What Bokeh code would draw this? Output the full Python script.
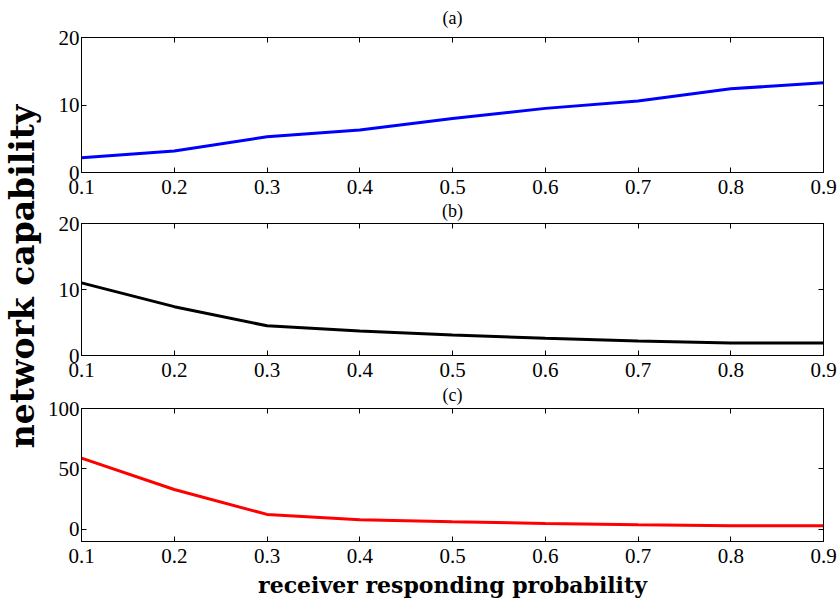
import math
from bokeh.plotting import figure
from bokeh.layouts import row, column
from bokeh.models import LinearAxis, FixedTicker, Range1d, Label, CustomJSTickFormatter
from bokeh.embed import file_html
from bokeh.resources import INLINE

# ---- data ----
x_prob = [0.1, 0.2, 0.3, 0.4, 0.5, 0.6, 0.7, 0.8, 0.9]
cap_a = [2.2, 3.2, 5.3, 6.3, 8.0, 9.5, 10.6, 12.4, 13.3]
cap_b = [11.0, 7.4, 4.5, 3.7, 3.1, 2.6, 2.2, 1.9, 1.9]
cap_c = [59.0, 33.0, 12.4, 8.0, 6.3, 4.9, 3.8, 3.0, 3.0]
x_ticks = [0.1, 0.2, 0.3, 0.4, 0.5, 0.6, 0.7, 0.8, 0.9]
y_ticks_ab = [0, 10, 20]
y_ticks_c = [0, 50, 100]
panel_titles = ["(a)", "(b)", "(c)"]
x_label = "receiver responding probability"
y_label = "network capability"

TICK_FONT = "'Liberation Serif', serif"
LABEL_FONT = "'DejaVu Serif', serif"
LEFT_W = 42


def style_axis(ax, ticks, show_labels=True):
    ax.ticker = FixedTicker(ticks=ticks)
    ax.axis_line_color = "black"
    ax.axis_line_width = 1
    ax.major_tick_in = 5
    ax.major_tick_out = 0
    ax.major_tick_line_color = "black"
    ax.minor_tick_line_color = None
    ax.major_label_text_font = TICK_FONT
    ax.major_label_text_color = "black"
    ax.major_label_text_font_size = "21px"
    if show_labels:
        ax.major_label_standoff = 2
    else:
        ax.formatter = CustomJSTickFormatter(code="return '';")
        ax.major_label_standoff = 0


def make_panel(title, ys, color, yticks, yrange, top, frame_h, bottom, title_standoff, xlabel=None):
    p = figure(width=838 - LEFT_W, height=top + frame_h + bottom,
               x_range=Range1d(0.1, 0.9), y_range=Range1d(*yrange),
               output_backend="svg", toolbar_location=None,
               min_border_left=81 - LEFT_W, min_border_right=15,
               min_border_top=top, min_border_bottom=bottom,
               title=title)
    p.title.align = "center"
    p.title.vertical_align = "top"
    p.title.text_font = TICK_FONT
    p.title.text_font_style = "normal"
    p.title.text_font_size = "18px"
    p.title.text_color = "black"
    p.title.standoff = title_standoff
    p.xgrid.visible = False
    p.ygrid.visible = False
    p.outline_line_color = "black"
    p.background_fill_color = "white"
    p.border_fill_color = "white"
    bottom_ax = p.xaxis[0]
    left_ax = p.yaxis[0]
    style_axis(bottom_ax, x_ticks)
    style_axis(left_ax, yticks)
    bottom_ax.major_label_standoff = 7
    if xlabel:
        bottom_ax.axis_label = xlabel
        bottom_ax.axis_label_text_font = LABEL_FONT
        bottom_ax.axis_label_text_font_style = "bold"
        bottom_ax.axis_label_text_font_size = "22px"
        bottom_ax.axis_label_text_color = "black"
        bottom_ax.axis_label_standoff = 6
    top_ax = LinearAxis()
    right_ax = LinearAxis()
    style_axis(top_ax, x_ticks, show_labels=False)
    style_axis(right_ax, yticks, show_labels=False)
    p.add_layout(top_ax, "above")
    p.add_layout(right_ax, "right")
    p.line(x_prob, ys, line_color=color, line_width=3)
    return p


p1 = make_panel(panel_titles[0], cap_a, "#0000ff", y_ticks_ab, (0, 20), 37, 135, 27, 15)
p2 = make_panel(panel_titles[1], cap_b, "#000000", y_ticks_ab, (0, 20), 24, 132, 27, 2)
p3 = make_panel(panel_titles[2], cap_c, "#ff0000", y_ticks_c, (-10, 100), 26, 134,
                600 - 199 - 183 - 26 - 134, 4, x_label)

lf = figure(width=LEFT_W, height=600, x_range=Range1d(0, LEFT_W), y_range=Range1d(0, 600),
            x_axis_type=None, y_axis_type=None, output_backend="svg",
            toolbar_location=None, min_border=0)
lf.outline_line_color = None
lf.xgrid.visible = False
lf.ygrid.visible = False
lf.add_layout(Label(x=22, y=600 - 276, text=y_label, angle=math.pi / 2,
                    text_align="center", text_baseline="middle",
                    text_font=LABEL_FONT, text_font_style="bold",
                    text_font_size="33px", text_color="black"))

layout = row(lf, column(p1, p2, p3, spacing=0), spacing=0)
open("out.html", "w").write(file_html(layout, INLINE))
